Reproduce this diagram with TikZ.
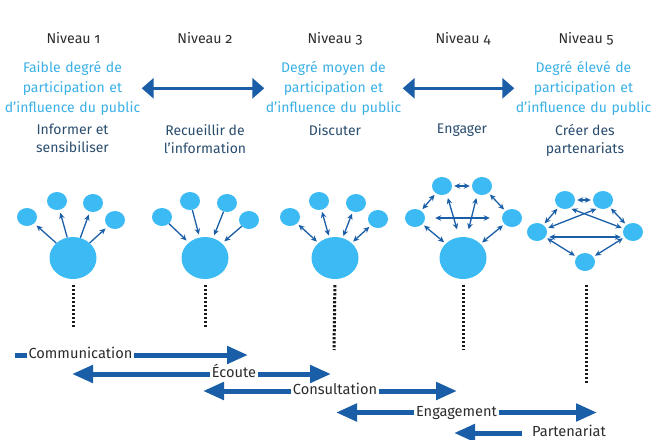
\documentclass[tikz,border=0pt]{standalone}
\usepackage{fontspec}
\setmainfont{Fira Sans}[Numbers=OldStyle]
\usetikzlibrary{arrows.meta,shapes.geometric}
\definecolor{lb}{HTML}{39B0E6}
\definecolor{db}{HTML}{1A5EA8}
\definecolor{circ}{HTML}{3BBAF3}
\definecolor{actc}{HTML}{2A4D6E}
\definecolor{txt}{HTML}{2B2B2B}
\begin{document}
\begin{tikzpicture}[x=1pt,y=-1pt,
  lvl/.style={font=\fontsize{14.2}{16}\selectfont, text=txt, anchor=base, inner sep=0pt},
  deg/.style={font=\fontsize{14}{20}\selectfont, text=lb, align=center, text width=138pt, inner sep=0pt, anchor=north},
  actn/.style={font=\fontsize{14}{18}\selectfont, text=actc, align=center, inner sep=0pt, anchor=north},
  bigc/.style={ellipse, fill=circ, minimum width=47pt, minimum height=42pt, inner sep=0pt},
  smc/.style={ellipse, fill=circ, minimum width=20pt, minimum height=18pt, inner sep=0pt},
  sarr/.style={draw=db, line width=1.3pt, shorten >=2pt},
  one/.style={-{Stealth[length=6pt,width=5.5pt]}},
  two/.style={{Stealth[length=6pt,width=5.5pt]}-{Stealth[length=6pt,width=5.5pt]}, shorten <=2pt},
  dotl/.style={draw=black!90, line width=3pt, dash pattern=on 2.2pt off 1.8pt},
  topar/.style={draw=db, line width=3pt, {Triangle[length=12pt,width=20pt]}-{Triangle[length=12pt,width=20pt]}},
  barr/.style={draw=db, line width=5pt},
  btip/.style={-{Triangle[length=21pt,width=17pt]}},
  lab/.style={font=\fontsize{14.6}{16}\selectfont, text=txt, inner xsep=1.5pt, inner ysep=0pt, text height=7pt, text depth=0pt}
]
\useasboundingbox (0,0) rectangle (653,439);

% level headings
\node[lvl] (n1) at (73.5,43) {Niveau 1};
\node[lvl] (n2) at (205,43) {Niveau 2};
\node[lvl] (n3) at (335,43) {Niveau 3};
\node[lvl] (n4) at (463,43) {Niveau 4};
\node[lvl] (n5) at (586,43) {Niveau 5};

% degree texts
\node[deg] (t1) at (72.5,61) {Faible degré de\\participation et\\d'influence du public};
\node[deg] (t3) at (333.5,61) {Degré moyen de\\participation et\\d'influence du public};
\node[deg] (t5) at (583.5,61) {Degré élevé de\\participation et\\d'influence du public};
\draw[topar] (t1.east) -- (t3.west);
\draw[topar] (t3.east) -- (t5.west);

% actions
\node[actn] (a1) at (72.5,124) {Informer et\\sensibiliser};
\node[actn] (a2) at (205,124) {Recueillir de\\l'information};
\node[actn] (a3) at (335,124) {Discuter};
\node[actn] (a4) at (462,124) {Engager};
\node[actn] (a5) at (585,124) {Créer des\\partenariats};

% level 1
\node[bigc] (b1) at (73,258) {};
\node[smc] (s11) at (27,217) {};
\node[smc] (s12) at (57,201) {};
\node[smc] (s13) at (93,203) {};
\node[smc] (s14) at (115,220) {};
\foreach \s in {s11,s12,s13,s14} \draw[sarr,one,shorten >=3pt] (b1) -- (\s);

% level 2
\node[bigc] (b2) at (205,258) {};
\node[smc] (s21) at (162,217) {};
\node[smc] (s22) at (190,201) {};
\node[smc] (s23) at (227,203) {};
\node[smc] (s24) at (249,220) {};
\foreach \s in {s21,s22,s23,s24} \draw[sarr,one,shorten >=3pt] (\s) -- (b2);

% level 3
\node[bigc] (b3) at (335,258) {};
\node[smc] (s31) at (290,217) {};
\node[smc] (s32) at (319,201) {};
\node[smc] (s33) at (356,203) {};
\node[smc] (s34) at (378,219) {};
\foreach \s in {s31,s32,s33,s34} \draw[sarr,two] (b3) -- (\s);

% level 4
\node[bigc] (b4) at (463,258) {};
\node[smc] (tl4) at (442,186) {};
\node[smc] (tr4) at (482,186) {};
\node[smc] (l4) at (415,218) {};
\node[smc] (r4) at (512,218) {};
\draw[sarr,two] (tl4) -- (tr4);
\draw[sarr,two] (tl4) -- (l4);
\draw[sarr,two] (tr4) -- (r4);
\draw[sarr,two] (l4) -- (b4);
\draw[sarr,two] (r4) -- (b4);
\draw[sarr,two,shorten <=10pt,shorten >=12pt] (l4) -- (r4);
\draw[sarr,two,shorten <=4pt,shorten >=8pt] (tl4.-60) -- (b4.100);
\draw[sarr,two,shorten <=4pt,shorten >=8pt] (tr4.-120) -- (b4.80);

% level 5
\node[smc] (tl5) at (565,200) {};
\node[smc] (tr5) at (603,200) {};
\node[smc] (l5) at (537,232) {};
\node[smc] (r5) at (633,232) {};
\node[smc] (bo5) at (585,262) {};
\draw[sarr,two] (tl5) -- (tr5);
\draw[sarr,two] (tl5) -- (l5);
\draw[sarr,two] (tr5) -- (r5);
\draw[sarr,two] (l5) -- (bo5);
\draw[sarr,two] (r5) -- (bo5);
\draw[sarr,two] ([yshift=-5pt]l5.east) -- ([yshift=-5pt]r5.west);
\draw[sarr,two] (tl5.-60) -- (r5.160);
\draw[sarr,two] (tr5.-120) -- (l5.20);

% dotted lines
\coordinate (d1) at (73,328);
\coordinate (d2) at (205,328);
\coordinate (d3) at (334,350);
\coordinate (d4) at (463,350);
\coordinate (d5) at (586,383);
\draw[dotl,shorten <=6pt] (b1.south) -- (d1);
\draw[dotl,shorten <=6pt] (b2.south) -- (d2);
\draw[dotl,shorten <=6pt] (b3.south) -- (d3);
\draw[dotl,shorten <=6pt] (b4.south) -- (d4);
\draw[dotl,shorten <=14pt] (bo5.south -| d5) -- (d5);

% bottom arrows
\node[lab] (comm) at (80.5,355) {Communication};
\coordinate (c0) at (15,355);
\coordinate (c1) at (248,355);
\draw[barr] (c0) -- (comm.west);
\draw[barr,btip] (comm.east) -- (c1);

\node[lab] (ecou) at (234,374) {Écoute};
\coordinate (e0) at (72,374);
\coordinate (e1) at (331,374);
\draw[barr,btip] (ecou.west) -- (e0);
\draw[barr,btip] (ecou.east) -- (e1);

\node[lab] (cons) at (335,391) {Consultation};
\coordinate (k0) at (203,391);
\coordinate (k1) at (457,391);
\draw[barr,btip] (cons.west) -- (k0);
\draw[barr,btip] (cons.east) -- (k1);

\node[lab] (enga) at (456.5,412.5) {Engagement};
\coordinate (g0) at (336,412.5);
\coordinate (g1) at (597,412.5);
\draw[barr,btip] (enga.west) -- (g0);
\draw[barr,btip] (enga.east) -- (g1);

\node[lab] (part) at (569,433) {Partenariat};
\coordinate (p0) at (454,433);
\draw[barr,btip,shorten <=8pt] (part.west) -- (p0);
\end{tikzpicture}
\end{document}
